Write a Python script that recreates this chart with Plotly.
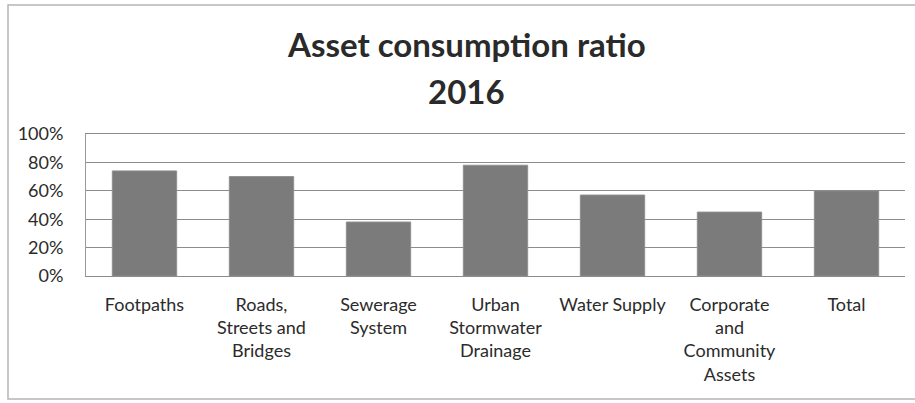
import plotly.graph_objects as go

# Asset categories and their consumption ratios for 2016
categories = [
    "Footpaths",
    "Roads,<br>Streets and<br>Bridges",
    "Sewerage<br>System",
    "Urban<br>Stormwater<br>Drainage",
    "Water Supply",
    "Corporate<br>and<br>Community<br>Assets",
    "Total",
]
ratios = [0.74, 0.70, 0.38, 0.78, 0.57, 0.45, 0.60]
y_ticks = [0, 0.2, 0.4, 0.6, 0.8, 1.0]
y_tick_labels = ["0%", "20%", "40%", "60%", "80%", "100%"]

FONT = "Lato"
W, H = 915, 403
L, R, T, B = 86, 10, 134, 127

fig = go.Figure(
    go.Bar(
        x=categories,
        y=ratios,
        marker=dict(color="#7b7b7b", line=dict(color="#8f8f8f", width=1)),
        hoverinfo="x+y",
    )
)

fig.update_layout(
    width=W,
    height=H,
    margin=dict(l=L, r=R, t=T, b=B),
    paper_bgcolor="white",
    plot_bgcolor="white",
    bargap=0.45,
    showlegend=False,
    font=dict(family=FONT, color="#2b2b2b", size=18),
)

fig.update_yaxes(
    range=[0, 1.0],
    tickvals=y_ticks,
    ticktext=y_tick_labels,
    showgrid=True,
    gridcolor="#8c8c8c",
    gridwidth=1,
    showline=True,
    linecolor="#9a9a9a",
    linewidth=1,
    zeroline=False,
    ticks="",
    ticklabelstandoff=18,
    tickfont=dict(size=18, family=FONT, color="#2b2b2b"),
)
fig.update_xaxes(
    showline=True,
    mirror=True,
    linecolor="#8c8c8c",
    linewidth=1,
    ticks="",
    tickangle=0,
    ticklabelstandoff=12,
    tickfont=dict(size=18, family=FONT, color="#2b2b2b"),
)

# Two-line chart title
title_x = (466 - L) / (W - L - R)
for text, ypx in (("<b>Asset consumption ratio</b>", 44), ("<b>2016</b>", 91)):
    fig.add_annotation(
        text=text, xref="paper", yref="paper",
        x=title_x, y=1 + (T - ypx) / (H - T - B),
        showarrow=False, font=dict(size=33, family=FONT, color="#2a2a2a"),
        xanchor="center", yanchor="middle",
    )

# Outer chart frame
pw, ph = W - L - R, H - T - B
fig.add_shape(
    type="rect", xref="paper", yref="paper",
    x0=(8 - L) / pw, x1=(925 - L) / pw,
    y0=-(399 - (T + ph)) / ph, y1=1 + (T - 5) / ph,
    line=dict(color="#b5b5b5", width=1.5), fillcolor="rgba(0,0,0,0)",
    layer="below",
)

fig.write_html("out.html")
